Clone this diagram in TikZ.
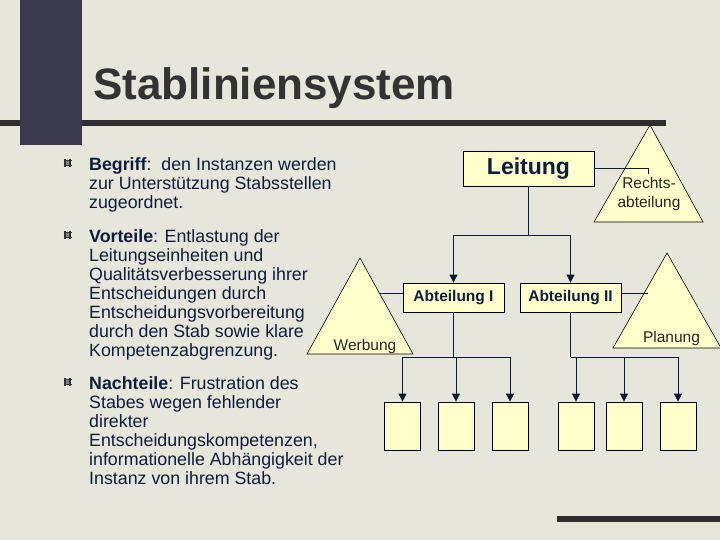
\documentclass[tikz,border=0pt]{standalone}
\usepackage{fontspec}
\setmainfont{Liberation Sans}
\usetikzlibrary{arrows.meta}

\definecolor{paper}{RGB}{230,230,218}
\definecolor{slatebar}{RGB}{58,58,76}
\definecolor{rule}{RGB}{46,46,46}
\definecolor{titlegrey}{RGB}{51,51,51}
\definecolor{navy}{RGB}{14,28,64}
\definecolor{linkcol}{RGB}{12,26,56}
\definecolor{boxfill}{RGB}{255,255,204}

\tikzset{
  unit/.style={draw=black, line width=0.8pt, fill=boxfill, inner sep=0pt},
  chief/.style={unit, minimum width=131pt, minimum height=35pt,
    font=\fontsize{23}{26}\selectfont\bfseries, text=navy},
  dept/.style={unit, minimum width=101pt, minimum height=29pt,
    font=\fontsize{15.5}{18}\selectfont\bfseries, text=navy},
  leaf/.style={unit, minimum width=36pt, minimum height=48pt},
  staff/.style={draw=black, line width=0.6pt, fill=boxfill},
  stafftext/.style={font=\fontsize{15.5}{19}\selectfont, text=black!85, inner sep=0pt, align=center},
  conn/.style={draw=linkcol, line width=0.8pt},
  arr/.style={conn, -{Triangle[width=8pt,length=8pt]}},
  % multi-line body text: the base anchor sits on the last line
  bodytext/.style={font=\fontsize{17.8}{19}\selectfont, text=navy, inner sep=0pt,
    anchor=base west, align=left},
  bulletmark/.pic={
    \fill[titlegrey!60] (-2.5,-2.5) rectangle (2.5,2.5);
    \draw[titlegrey, line width=1.3pt] (-4,-2.5) -- (4,-2.5) (-4,2.5) -- (4,2.5)
      (-2.5,-4) -- (-2.5,4) (2.5,-4) -- (2.5,4);
  }
}

\begin{document}
\begin{tikzpicture}[x=1pt, y=-1pt]
  % page and decoration
  \fill[paper] (0,0) rectangle (720,540);
  \useasboundingbox (0,0) rectangle (720,540);
  \fill[rule] (0,120) rectangle (666,126);
  \fill[slatebar] (20,0) rectangle (82,145);
  \fill[rule] (557,516) rectangle (720,522);

  % heading
  \node[anchor=base west, inner sep=0pt, text=titlegrey,
        font=\fontsize{44}{50}\selectfont\bfseries] (title) at (93,100) {Stabliniensystem};

  % bullet list
  \pic at (67.5,163) {bulletmark};
  \pic at (67.5,235) {bulletmark};
  \pic at (67.5,382) {bulletmark};

  \node[bodytext] (begriff) at (89,208)
    {\textbf{Begriff}:\ \ den Instanzen werden\\
     zur Unterstützung Stabsstellen\\
     zugeordnet.};
  \node[bodytext] (vorteile) at (89,356)
    {\textbf{Vorteile}: Entlastung der\\
     Leitungseinheiten und\\
     Qualitätsverbesserung ihrer\\
     Entscheidungen durch\\
     Entscheidungsvorbereitung\\
     durch den Stab sowie klare\\
     Kompetenzabgrenzung.};
  \node[bodytext] (nachteile) at (89,484)
    {\textbf{Nachteile}: Frustration des\\
     Stabes wegen fehlender\\
     direkter\\
     Entscheidungskompetenzen,\\
     informationelle Abhängigkeit der\\
     Instanz von ihrem Stab.};

  % staff units (triangles)
  \draw[staff] (650,125) -- (703,222) -- (594,222) -- cycle;
  \draw[staff] (360,258) -- (413,354) -- (307,354) -- cycle;
  \draw[staff] (667,253) -- (721,348) -- (613,348) -- cycle;
  \node[stafftext] (recht) at (649,194) {Rechts-\\abteilung};
  \node[stafftext, anchor=base] (werbung) at (365,350) {Werbung};
  \node[stafftext, anchor=base] (planung) at (671.5,342) {Planung};
  \coordinate (rechtTip) at (648,174);
  \coordinate (werbTip) at (380,293.5);
  \coordinate (planTip) at (648,293.5);

  % line units
  \node[chief] (leitung) at (528.5,168.5) {Leitung};
  \node[dept] (abt1) at (453.5,297.5) {Abteilung I};
  \node[dept] (abt2) at (570.5,297.5) {Abteilung II};

  \node[leaf] (s1) at (402.5,426) {};
  \node[leaf] (s2) at (456,426) {};
  \node[leaf] (s3) at (510,426) {};
  \node[leaf] (s4) at (576,426) {};
  \node[leaf] (s5) at (624,426) {};
  \node[leaf] (s6) at (678,426) {};

  % connectors
  \coordinate (fork0) at (528.5,235);
  \draw[conn] (leitung.south) -- (fork0);
  \draw[arr] (fork0) -| (abt1.north);
  \draw[arr] (fork0) -| (abt2.north);

  \draw[conn] (leitung.east) -| (rechtTip);
  \draw[conn] ([yshift=4pt]abt1.west) -- (werbTip);
  \draw[conn] ([yshift=4pt]abt2.east) -- (planTip);

  \coordinate (fork1) at (453.5,357);
  \draw[conn] (abt1.south) -- (fork1);
  \draw[arr] (fork1) -| (s1.north);
  \draw[arr] (fork1) -| (s2.north);
  \draw[arr] (fork1) -| (s3.north);

  \coordinate (fork2) at (570.5,357);
  \draw[conn] (abt2.south) -- (fork2);
  \draw[arr] (fork2) -| (s4.north);
  \draw[arr] (fork2) -| (s5.north);
  \draw[arr] (fork2) -| (s6.north);
\end{tikzpicture}
\end{document}
